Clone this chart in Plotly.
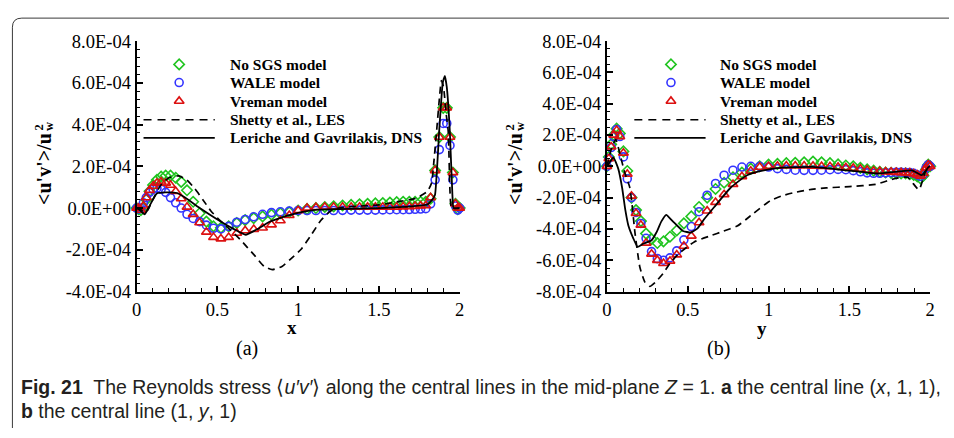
import plotly.graph_objects as go

W, H = 954, 438
SCALE = 1e-4  # stored stress values are in units of 1e-4

# Sample positions along the central line (stretched towards both walls)
GRID = [0.0, 0.012, 0.026, 0.042, 0.06, 0.08, 0.102, 0.126, 0.152, 0.18, 0.21,
        0.242, 0.276, 0.312, 0.35, 0.39, 0.432, 0.476, 0.522, 0.57, 0.62, 0.672,
        0.725, 0.78, 0.835, 0.89, 0.945, 1.0,
        1.055, 1.11, 1.165, 1.22, 1.275, 1.328, 1.38, 1.43, 1.478, 1.524, 1.568,
        1.61, 1.65, 1.688, 1.724, 1.758, 1.79, 1.82, 1.848, 1.874, 1.898, 1.92,
        1.94, 1.958, 1.974, 1.988, 2.0]

# ---- (a) central line (x, 1, 1) ----
A_NOSGS = [0.0, -0.05, -0.1, 0.0, 0.4, 0.8, 1.1, 1.35, 1.5, 1.55, 1.55, 1.45, 1.25,
           0.85, 0.3, -0.25, -0.65, -0.88, -0.95, -0.88, -0.72, -0.58, -0.48, -0.40,
           -0.32, -0.25, -0.2, -0.12,
           -0.05, 0.0, 0.05, 0.08, 0.12, 0.15, 0.18, 0.2, 0.22, 0.24, 0.26, 0.28, 0.3,
           0.3, 0.3, 0.3, 0.3, 0.45, 1.8, 3.4, 4.8, 4.8, 3.4, 1.7, 0.2, -0.05, 0.0]
A_WALE = [0.0, -0.05, 0.0, 0.25, 0.5, 0.75, 0.9, 0.95, 0.9, 0.75, 0.5, 0.25, 0.0,
          -0.3, -0.5, -0.65, -0.82, -0.97, -1.0, -0.88, -0.68, -0.55, -0.42, -0.3,
          -0.22, -0.18, -0.15, -0.12,
          -0.12, -0.12, -0.12, -0.12, -0.11, -0.1, -0.1, -0.1, -0.1, -0.09, -0.08,
          -0.08, -0.08, -0.07, -0.06, -0.05, -0.03, 0.2, 1.35, 2.8, 4.05, 4.05, 3.0,
          1.35, 0.1, -0.1, 0.0]
A_VREMAN = [0.0, 0.0, -0.1, 0.1, 0.5, 0.85, 1.05, 1.2, 1.25, 1.2, 1.1, 0.8, 0.45,
            0.05, -0.3, -0.7, -1.15, -1.4, -1.47, -1.4, -1.2, -1.08, -1.02, -0.95,
            -0.8, -0.6, -0.35, -0.12,
            0.0, 0.03, 0.05, 0.05, 0.05, 0.05, 0.05, 0.05, 0.05, 0.05, 0.05, 0.05,
            0.06, 0.07, 0.08, 0.1, 0.12, 0.5, 1.8, 3.4, 4.8, 4.8, 3.4, 1.7, 0.2, 0.0, 0.0]

A_LES_X = [0.0, 0.03, 0.06, 0.1, 0.15, 0.2, 0.26, 0.31, 0.36, 0.41, 0.46, 0.51, 0.56,
           0.64, 0.73, 0.79, 0.84, 0.9, 0.96, 1.02, 1.08, 1.14, 1.2, 1.25, 1.35, 1.5,
           1.63, 1.73, 1.8, 1.826, 1.84, 1.857, 1.875, 1.887, 1.9, 1.915, 1.929, 1.94,
           1.95, 2.0]
A_LES = [0.0, -0.1, -0.2, 0.4, 1.1, 1.45, 1.54, 1.35, 0.93, 0.4, -0.14, -0.55, -0.9,
         -1.5, -2.27, -2.8, -2.95, -2.8, -2.4, -1.96, -1.3, -0.6, -0.15, 0.0, 0.08, 0.15,
         0.32, 0.47, 0.8, 1.2, 2.2, 3.67, 5.3, 6.1, 5.8, 4.6, 3.67, 0.8, 0.0, 0.0]

A_DNS_X = [0.0, 0.02, 0.05, 0.08, 0.125, 0.18, 0.25, 0.3, 0.4, 0.5, 0.6, 0.675, 0.75,
           0.82, 0.9, 1.02, 1.12, 1.25, 1.5, 1.7, 1.8, 1.83, 1.847, 1.873, 1.895, 1.908,
           1.92, 1.939, 1.955, 1.962, 2.0]
A_DNS = [0.0, -0.1, -0.3, 0.1, 0.7, 0.75, 0.72, 0.5, -0.05, -0.55, -1.0, -1.28, -1.0,
         -0.67, -0.45, -0.2, -0.08, -0.05, 0.0, 0.08, 0.17, 0.4, 0.62, 3.67, 6.0, 6.33,
         5.8, 3.67, 0.62, 0.0, 0.0]

# ---- (b) central line (1, y, 1) ----
B_NOSGS = [0.0, 0.6, 1.4, 2.0, 2.4, 2.1, 0.95, -0.3, -2.0, -2.8, -3.5, -4.3, -4.65,
           -4.9, -4.8, -4.5, -4.1, -3.65, -3.2, -2.6, -2.0, -1.45, -1.05, -0.7, -0.4,
           -0.15, 0.0, 0.1,
           0.15, 0.2, 0.22, 0.25, 0.3, 0.25, 0.2, 0.12, 0.05, 0.0, -0.1, -0.2, -0.28,
           -0.35, -0.4, -0.42, -0.45, -0.45, -0.45, -0.5, -0.55, -0.65, -0.78, -0.6,
           -0.2, 0.1, 0.0]
B_WALE = [0.0, 0.5, 1.2, 1.9, 2.35, 1.9, 0.6, -0.8, -2.0, -2.95, -3.65, -4.6, -5.45,
          -5.9, -6.0, -5.85, -5.4, -4.7, -3.85, -2.9, -1.85, -1.1, -0.57, -0.25, -0.05,
          0.0, 0.0, -0.05,
          -0.15, -0.2, -0.25, -0.26, -0.26, -0.25, -0.22, -0.2, -0.22, -0.28, -0.35,
          -0.42, -0.45, -0.45, -0.42, -0.4, -0.38, -0.38, -0.4, -0.4, -0.45, -0.55,
          -0.65, -0.5, -0.1, 0.1, 0.0]
B_VREMAN = [0.0, 0.5, 1.25, 2.0, 2.3, 1.9, 0.85, -0.5, -1.9, -3.0, -3.75, -4.9, -5.6,
            -6.0, -6.2, -6.05, -5.65, -5.1, -4.45, -3.6, -2.85, -2.3, -1.8, -1.15,
            -0.65, -0.3, -0.05, 0.0,
            0.02, 0.03, 0.03, 0.03, 0.02, 0.0, -0.02, -0.05, -0.08, -0.12, -0.18,
            -0.25, -0.3, -0.33, -0.35, -0.37, -0.38, -0.4, -0.42, -0.42, -0.48, -0.55,
            -0.62, -0.45, -0.1, 0.1, 0.0]

B_LES_X = [0.0, 0.03, 0.055, 0.08, 0.11, 0.14, 0.153, 0.173, 0.204, 0.235, 0.265, 0.3,
           0.347, 0.39, 0.438, 0.54, 0.643, 0.72, 0.806, 0.86, 0.908, 1.01, 1.08, 1.153,
           1.25, 1.357, 1.5, 1.664, 1.787, 1.86, 1.93, 1.97, 2.0]
B_LES = [0.0, 1.2, 1.7, 0.8, -0.4, -1.3, -2.2, -4.2, -6.45, -7.4, -7.67, -7.4, -6.86,
         -6.2, -5.64, -4.83, -4.43, -4.15, -3.82, -3.4, -3.0, -2.2, -1.9, -1.69, -1.5,
         -1.38, -1.3, -1.15, -0.77, -0.7, -1.5, -0.35, 0.0]

B_DNS_X = [0.0, 0.01, 0.04, 0.07, 0.094, 0.114, 0.133, 0.163, 0.19, 0.224, 0.275,
           0.306, 0.337, 0.367, 0.408, 0.47, 0.52, 0.562, 0.6, 0.664, 0.765, 0.867,
           0.97, 1.07, 1.27, 1.48, 1.68, 1.887, 1.948, 1.99, 2.0]
B_DNS = [0.0, 0.15, 0.57, -0.15, -1.37, -2.8, -3.8, -4.6, -5.15, -4.95, -4.74, -4.23,
         -3.52, -3.1, -3.52, -4.13, -4.23, -3.95, -3.4, -2.6, -1.37, -0.57, -0.26,
         -0.1, -0.04, -0.26, -0.46, -0.26, -0.57, -0.05, 0.0]

SERIES_NAMES = ["No SGS model", "WALE model", "Vreman model",
                "Shetty et al., LES", "Leriche and Gavrilakis, DNS"]

X_TICKS = [0, 0.5, 1, 1.5, 2]
X_TICK_TEXT = ["0", "0.5", "1", "1.5", "2"]
Y_TICKS_A = [-4, -2, 0, 2, 4, 6, 8]
Y_TICK_TEXT_A = ["-4.0E-04", "-2.0E-04", "0.0E+00", "2.0E-04", "4.0E-04",
                 "6.0E-04", "8.0E-04"]
Y_TICKS_B = [-8, -6, -4, -2, 0, 2, 4, 6, 8]
Y_TICK_TEXT_B = ["-8.0E-04", "-6.0E-04", "-4.0E-04", "-2.0E-04", "0.0E+00",
                 "2.0E-04", "4.0E-04", "6.0E-04", "8.0E-04"]

SERIF = "Liberation Serif, Times New Roman, serif"
SANS = "Liberation Sans Narrow, Arial Narrow, Liberation Sans, sans-serif"

GREEN, BLUE, RED = "#1fc41f", "#3434ff", "#dc1010"
MARKERS = [("diamond-open", GREEN, 8), ("circle-open", BLUE, 8),
           ("triangle-up-open", RED, 8.5)]
TICK_SIZE = 18.5


def scaled(vals):
    return [v * SCALE for v in vals]


fig = go.Figure()


def add_panel(xa, ya, model_series, les_x, les, dns_x, dns):
    for (sym, col, size), vals in zip(MARKERS, model_series):
        fig.add_trace(go.Scatter(
            x=GRID, y=scaled(vals), mode="markers", xaxis=xa, yaxis=ya,
            cliponaxis=False, showlegend=False,
            marker=dict(symbol=sym, size=size, color=col, line=dict(width=1.6, color=col))))
    fig.add_trace(go.Scatter(
        x=les_x, y=scaled(les), mode="lines", xaxis=xa, yaxis=ya, showlegend=False,
        line=dict(color="black", width=1.7, dash="7px,5px", shape="spline", smoothing=0.5)))
    fig.add_trace(go.Scatter(
        x=dns_x, y=scaled(dns), mode="lines", xaxis=xa, yaxis=ya, showlegend=False,
        line=dict(color="black", width=1.8, shape="spline", smoothing=0.4)))


add_panel("x", "y", [A_NOSGS, A_WALE, A_VREMAN], A_LES_X, A_LES, A_DNS_X, A_DNS)
add_panel("x2", "y2", [B_NOSGS, B_WALE, B_VREMAN], B_LES_X, B_LES, B_DNS_X, B_DNS)

# Legend glyphs drawn on a pixel-space overlay axis
LEG_ROWS = [57, 76, 95.5, 115, 134]


def add_legend(marker_x, line_x0, line_x1, text_x):
    for (sym, col, size), row in zip(MARKERS, LEG_ROWS[:3]):
        fig.add_trace(go.Scatter(
            x=[marker_x], y=[row], mode="markers", xaxis="x3", yaxis="y3",
            showlegend=False, cliponaxis=False,
            marker=dict(symbol=sym, size=size, color=col, line=dict(width=1.6, color=col))))
    fig.add_trace(go.Scatter(
        x=[line_x0, line_x1], y=[LEG_ROWS[3]] * 2, mode="lines", xaxis="x3", yaxis="y3",
        showlegend=False, line=dict(color="black", width=1.7, dash="8px,6px")))
    fig.add_trace(go.Scatter(
        x=[line_x0, line_x1], y=[LEG_ROWS[4]] * 2, mode="lines", xaxis="x3", yaxis="y3",
        showlegend=False, line=dict(color="black", width=1.8)))
    for name, row in zip(SERIES_NAMES, LEG_ROWS):
        fig.add_annotation(x=text_x, y=row, xref="x3", yref="y3", text=f"<b>{name}</b>",
                           showarrow=False, xanchor="left", yanchor="middle",
                           font=dict(family=SERIF, size=15.5, color="black"))


add_legend(176, 140, 212, 225)
add_legend(673, 636, 708, 721)


def text(x, y, s, size, family=SERIF, angle=0, xanchor="center", color="black"):
    fig.add_annotation(x=x, y=y, xref="x3", yref="y3", text=s, showarrow=False,
                       xanchor=xanchor, yanchor="middle", textangle=angle,
                       font=dict(family=family, size=size, color=color))


# axis titles and panel labels
for dx, xlab, plab, xcen, ycen in [(0, "x", "(a)", 290, 333), (476, "y", "(b)", 765, 334)]:
    text(40 + dx, 167, "<b>&lt;u'v'&gt;/u</b>", 20, angle=-90)
    text(45 + dx, 122, "<b>w</b>", 12.5, angle=-90)
    text(34.5 + dx, 123, "<b>2</b>", 12.5, angle=-90)
    text(xcen, ycen, f"<b>{xlab}</b>", 19)
    text(245 + dx, 355, plab, 20)

# caption
text(14, 395, "<b>Fig. 21</b>\u00a0 The Reynolds stress \u27e8<i>u\u2032v\u2032</i>\u27e9 along the "
     "central lines in the mid-plane <i>Z</i> = 1. <b>a</b> the central line (<i>x</i>, 1, 1),",
     19.5, family=SANS, xanchor="left", color="#231f20")
text(14, 420, "<b>b</b> the central line (1, <i>y</i>, 1)", 19.5, family=SANS,
     xanchor="left", color="#231f20")

# rounded frame around the figure
fig.add_shape(type="path", xref="x3", yref="y3",
              path="M 7.5,438 L 7.5,18 Q 7.5,8.5 17,8.5 L 954,8.5",
              line=dict(color="#3a3a3a", width=1))

Y_DOM = [1 - 295 / H, 1 - 32.5 / H]


def xaxis_style(domain, anchor):
    return dict(domain=domain, anchor=anchor, range=[0, 2], showline=True,
                linecolor="black", linewidth=2, mirror=False, showgrid=False,
                zeroline=False, ticks="inside", ticklen=6, tickwidth=1.5,
                tickcolor="black", tickmode="array", tickvals=X_TICKS,
                ticktext=X_TICK_TEXT,
                tickfont=dict(family=SERIF, size=TICK_SIZE, color="black"),
                minor=dict(ticks="inside", ticklen=3.5, tickwidth=1.2, tickcolor="black",
                           tickmode="linear", tick0=0, dtick=0.1, showgrid=False))


def yaxis_style(anchor, lo, hi, tickvals, ticktext, minor):
    return dict(domain=Y_DOM, anchor=anchor, range=[lo * SCALE, hi * SCALE],
                showline=True, linecolor="black", linewidth=2, mirror=False,
                showgrid=False, zeroline=False, ticks="inside", ticklen=6, tickwidth=1.5,
                tickcolor="black", tickmode="array", tickvals=scaled(tickvals),
                ticktext=ticktext,
                tickfont=dict(family=SERIF, size=TICK_SIZE, color="black"),
                minor=dict(ticks="inside", ticklen=3.5, tickwidth=1.2, tickcolor="black",
                           tickmode="linear", tick0=0, dtick=minor * SCALE, showgrid=False))


fig.update_layout(
    width=W, height=H, margin=dict(l=0, r=0, t=0, b=0),
    paper_bgcolor="white", plot_bgcolor="rgba(0,0,0,0)", showlegend=False,
    xaxis=xaxis_style([133 / W, 459.5 / W], "y"),
    yaxis=yaxis_style("x", -4, 8, Y_TICKS_A, Y_TICK_TEXT_A, 0.4),
    xaxis2=xaxis_style([608.3 / W, 935 / W], "y2"),
    yaxis2=yaxis_style("x2", -8, 8, Y_TICKS_B, Y_TICK_TEXT_B, 0.5),
    xaxis3=dict(domain=[0, 1], range=[0, W], visible=False, anchor="y3", fixedrange=True),
    yaxis3=dict(domain=[0, 1], range=[H, 0], visible=False, anchor="x3", fixedrange=True),
)

fig.write_html("out.html")
